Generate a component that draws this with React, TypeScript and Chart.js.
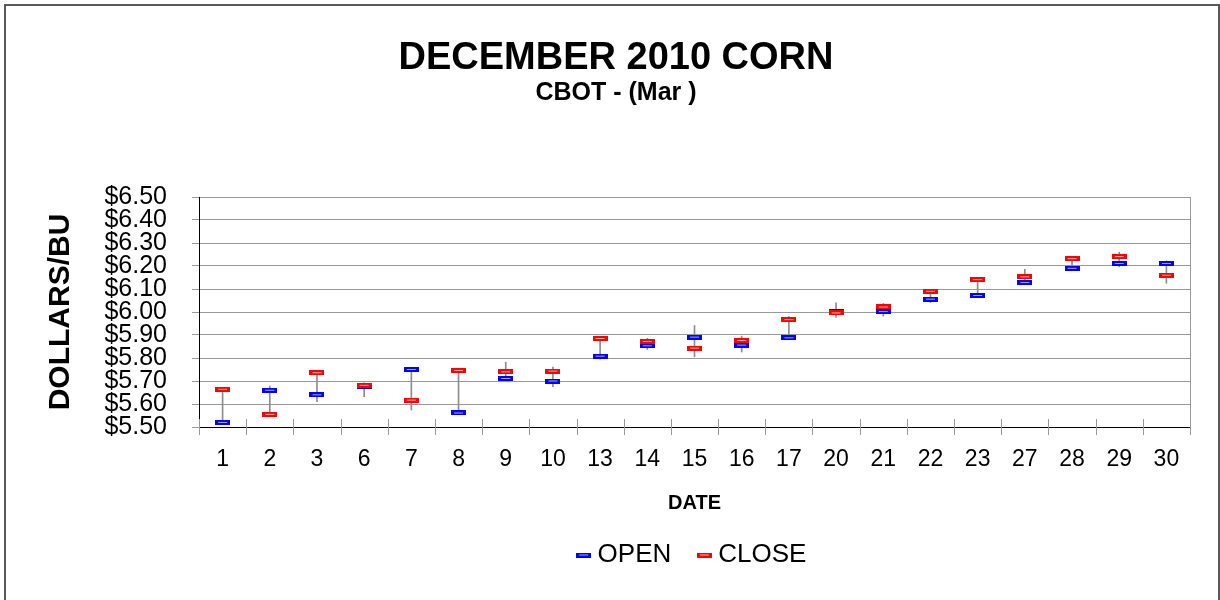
import { useEffect, useRef } from 'react';
import { Chart, registerables } from 'chart.js';

Chart.register(...registerables);

const dates = ['1', '2', '3', '6', '7', '8', '9', '10', '13', '14', '15', '16', '17', '20', '21', '22', '23', '27', '28', '29', '30'];
const opens = [5.52, 5.66, 5.64, 5.674, 5.75, 5.561, 5.711, 5.70, 5.808, 5.853, 5.891, 5.856, 5.888, 6.001, 6.002, 6.056, 6.072, 6.128, 6.19, 6.211, 6.211];
const closes = [5.664, 5.555, 5.736, 5.681, 5.617, 5.746, 5.74, 5.743, 5.885, 5.872, 5.843, 5.876, 5.967, 5.996, 6.022, 6.09, 6.141, 6.153, 6.232, 6.241, 6.16];
const highs = [5.664, 5.678, 5.736, 5.692, 5.75, 5.746, 5.781, 5.761, 5.885, 5.886, 5.941, 5.895, 5.98, 6.04, 6.037, 6.09, 6.141, 6.186, 6.232, 6.26, 6.223];
const lows = [5.52, 5.555, 5.61, 5.632, 5.574, 5.561, 5.711, 5.675, 5.795, 5.837, 5.805, 5.826, 5.888, 5.976, 5.982, 6.041, 6.072, 6.128, 6.19, 6.196, 6.125];

const Y_MIN = 5.5;
const Y_MAX = 6.5;
const Y_STEP = 0.1;

const FONT = "'Liberation Sans', Arial, sans-serif";

function makeMarker(fill: string, inner: string) {
  const c = document.createElement('canvas');
  c.width = 15;
  c.height = 5;
  const g = c.getContext('2d')!;
  g.fillStyle = fill;
  g.fillRect(0, 0, 15, 5);
  g.fillStyle = inner;
  g.fillRect(3, 2, 9, 1);
  return c;
}

const framePlugin = {
  id: 'frame',
  afterDraw(chart: any) {
    const { ctx, chartArea } = chart;
    const { left, right, top, bottom } = chartArea;
    ctx.save();
    ctx.strokeStyle = '#999999';
    ctx.lineWidth = 1;
    ctx.beginPath();
    ctx.moveTo(Math.round(right) + 0.5, top);
    ctx.lineTo(Math.round(right) + 0.5, bottom);
    const n = chart.data.labels.length;
    for (let i = 0; i <= n; i++) {
      const x = Math.round(left + (i * (right - left)) / n) + 0.5;
      ctx.moveTo(x, bottom - 8);
      ctx.lineTo(x, bottom + 8);
    }
    ctx.stroke();
    ctx.restore();
  },
};

export default function App() {
  const ref = useRef<HTMLCanvasElement>(null);

  useEffect(() => {
    document.body.style.margin = '0';
    document.body.style.overflow = 'hidden';
    const openImg = makeMarker('#0000ff', '#a8a8ff');
    const closeImg = makeMarker('#ff0000', '#ffb0b0');
    Chart.defaults.font.family = FONT;
    Chart.defaults.color = '#000000';

    const chart = new Chart(ref.current!, {
      type: 'bar',
      data: {
        labels: dates,
        datasets: [
          {
            type: 'bar',
            label: 'HL',
            data: lows.map((l, i) => [l, highs[i]]) as any,
            backgroundColor: '#8c8c8c',
            barThickness: 1,
            order: 3,
          } as any,
          {
            type: 'line',
            label: 'OPEN',
            data: opens,
            showLine: false,
            pointStyle: openImg,
            pointRadius: 5,
            order: 1,
          },
          {
            type: 'line',
            label: 'CLOSE',
            data: closes,
            showLine: false,
            pointStyle: closeImg,
            pointRadius: 5,
            order: 0,
          },
        ],
      },
      options: {
        responsive: false,
        animation: false,
        events: [],
        layout: { padding: { left: 42, right: 30, top: 0, bottom: 22 } },
        scales: {
          x: {
            grid: { display: false, drawTicks: false, tickLength: 0 },
            border: { display: true, color: '#000000', width: 1 },
            ticks: { autoSkip: false, maxRotation: 0, padding: 19, font: { size: 23 }, color: '#000000' },
            title: {
              display: true,
              text: 'DATE',
              font: { size: 20, weight: 'bold' },
              color: '#000000',
              padding: { top: 0, bottom: -5 },
            },
            afterFit(scale: any) {
              scale.height = 83;
            },
          },
          y: {
            min: Y_MIN,
            max: Y_MAX,
            grid: { color: '#999999', tickColor: '#999999', tickLength: 7, drawTicks: true },
            border: { display: true, color: '#000000', width: 1 },
            ticks: {
              stepSize: Y_STEP,
              autoSkip: false,
              padding: 25,
              font: { size: 25, lineHeight: 1 },
              color: '#000000',
              callback: (v: any) => '$' + Number(v).toFixed(2),
            },
            title: {
              display: true,
              text: 'DOLLARS/BU',
              font: { size: 30, weight: 'bold', lineHeight: 1.2 },
              color: '#000000',
              padding: { top: 1, bottom: 0 },
            },
            afterFit(scale: any) {
              scale.width = 157;
            },
          },
        },
        plugins: {
          title: {
            display: true,
            text: 'DECEMBER 2010 CORN',
            font: { size: 38, weight: 'bold', lineHeight: 1 },
            color: '#000000',
            padding: { top: 40, bottom: 0 },
          },
          subtitle: {
            display: true,
            text: 'CBOT - (Mar )',
            font: { size: 25, weight: 'bold', lineHeight: 1 },
            color: '#000000',
            padding: { top: 3, bottom: 91 },
          },
          legend: {
            display: true,
            position: 'bottom',
            fullSize: false,
            labels: {
              usePointStyle: true,
              boxWidth: 2,
              padding: 32,
              font: { size: 26 },
              color: '#000000',
              filter: (item: any) => item.text !== 'HL',
              sort: (a: any, b: any) => a.datasetIndex - b.datasetIndex,
            },
          },
          tooltip: { enabled: false },
        },
      } as any,
      plugins: [framePlugin],
    });
    return () => chart.destroy();
  }, []);

  return (
    <div style={{ position: 'relative', width: 1220, height: 600, background: '#ffffff' }}>
      <canvas ref={ref} width={1220} height={600} style={{ position: 'absolute', left: 0, top: 0 }} />
      <div
        style={{
          position: 'absolute',
          left: 4,
          top: 4,
          width: 1216,
          height: 600,
          boxSizing: 'border-box',
          borderTop: '2px solid #5a5a5a',
          borderLeft: '2px solid #5a5a5a',
          borderRight: '2px solid #5a5a5a',
          pointerEvents: 'none',
        }}
      />
    </div>
  );
}
